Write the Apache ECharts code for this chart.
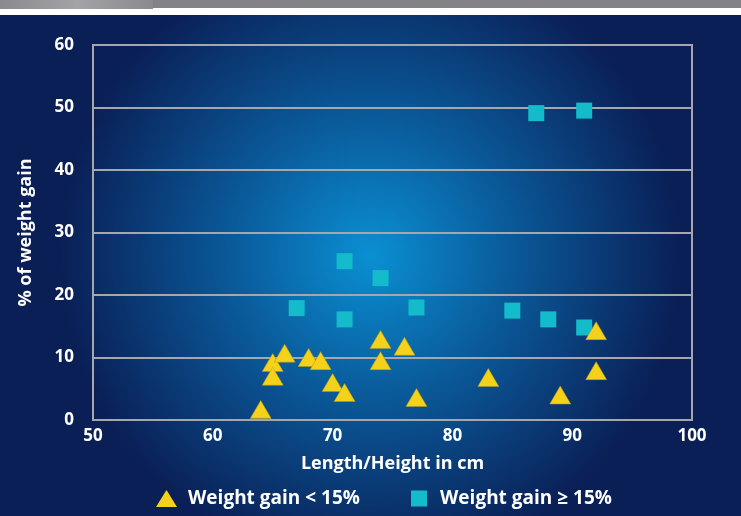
<!DOCTYPE html>
<html>
<head>
<meta charset="utf-8">
<script src="https://cdn.jsdelivr.net/npm/echarts@6/dist/echarts.min.js"></script>
<style>
  html, body { margin: 0; padding: 0; background: #ffffff; }
  #chart { width: 741px; height: 516px; }
</style>
</head>
<body>
<div id="chart"></div>
<script>
// weight gain < 15%  [length cm, % gain]
var lowGain = [
  [64, 1.7], [65, 9.2], [65, 7.0], [66, 10.7], [68, 10.0], [69, 9.5],
  [70, 6.0], [71, 4.4], [74, 12.9], [74, 9.5], [76, 11.8], [77, 3.6],
  [83, 6.8], [89, 4.0], [92, 14.3], [92, 7.9]
];
// weight gain >= 15%
var highGain = [
  [67, 17.9], [71, 25.4], [71, 16.1], [74, 22.7], [77, 18.0],
  [85, 17.5], [88, 16.1], [91, 14.8], [87, 49.1], [91, 49.5]
];
var seriesNames = ["Weight gain < 15%", "Weight gain \u2265 15%"];
var xTicks = { min: 50, max: 100, step: 10 };
var yTicks = { min: 0, max: 60, step: 10 };

var font = "'Open Sans', 'DejaVu Sans', sans-serif";
var myChart = echarts.init(document.getElementById("chart"));
var option = {
  backgroundColor: "#ffffff",
  graphic: [
    {
      type: "rect",
      z: -10,
      shape: { x: 0, y: 0, width: 741, height: 8 },
      style: { fill: "#838387" }
    },
    {
      type: "rect",
      z: -10,
      shape: { x: 0, y: 0, width: 153, height: 9 },
      style: {
        fill: new echarts.graphic.LinearGradient(0, 0, 1, 0, [
          { offset: 0, color: "#8a8a8e" },
          { offset: 0.5, color: "#a3a3a6" },
          { offset: 1, color: "#8a8a8e" }
        ])
      }
    },
    {
      type: "rect",
      z: -10,
      shape: { x: 0, y: 15, width: 741, height: 501 },
      style: {
        fill: new echarts.graphic.RadialGradient(0.5, 0.48, 0.62, [
          { offset: 0, color: "#0a90d3" },
          { offset: 0.45, color: "#0a5a9a" },
          { offset: 1, color: "#0a1f56" }
        ])
      }
    }
  ],
  grid: {
    left: 93,
    right: 49,
    top: 45,
    bottom: 96,
    show: true,
    borderColor: "#a5a7ab",
    borderWidth: 2,
    backgroundColor: "transparent"
  },
  legend: [
    {
      data: [{ name: seriesNames[0], icon: "triangle", itemStyle: { borderWidth: 0 } }],
      left: 156,
      top: 489,
      padding: 0,
      itemWidth: 21,
      itemHeight: 17,
      textStyle: { color: "#ffffff", fontSize: 19, fontWeight: "bold", fontFamily: font, padding: [0, 0, 0, 6] }
    },
    {
      data: [{ name: seriesNames[1], icon: "rect" }],
      left: 411,
      top: 489,
      padding: 0,
      itemWidth: 16,
      itemHeight: 16,
      textStyle: { color: "#ffffff", fontSize: 19, fontWeight: "bold", fontFamily: font, padding: [0, 0, 0, 8] }
    }
  ],
  xAxis: {
    type: "value",
    min: xTicks.min,
    max: xTicks.max,
    interval: xTicks.step,
    name: "Length/Height in cm",
    nameLocation: "middle",
    nameGap: 35,
    nameTextStyle: { color: "#ffffff", fontSize: 18, fontWeight: "bold", fontFamily: font },
    axisLine: { lineStyle: { color: "#a5a7ab", width: 2 } },
    axisTick: { show: false },
    splitLine: { show: false },
    axisLabel: { color: "#ffffff", fontSize: 17, fontWeight: "bold", fontFamily: font, margin: 8 }
  },
  yAxis: {
    type: "value",
    min: yTicks.min,
    max: yTicks.max,
    interval: yTicks.step,
    name: "% of weight gain",
    nameLocation: "middle",
    nameGap: 58,
    nameTextStyle: { color: "#ffffff", fontSize: 18, fontWeight: "bold", fontFamily: font },
    axisLine: { show: true, lineStyle: { color: "#a5a7ab", width: 2 } },
    axisTick: { show: false },
    splitLine: { lineStyle: { color: "#a5a7ab", width: 2 } },
    axisLabel: { color: "#ffffff", fontSize: 17, fontWeight: "bold", fontFamily: font, margin: 19 }
  },
  series: [
    {
      name: seriesNames[1],
      type: "scatter",
      symbol: "rect",
      symbolSize: 16,
      data: highGain,
      itemStyle: { color: "#14bccb", opacity: 1 },
      z: 3
    },
    {
      name: seriesNames[0],
      type: "scatter",
      symbol: "triangle",
      symbolSize: [21, 18],
      data: lowGain,
      itemStyle: { color: "#f4d219", opacity: 1, borderColor: "#b59a1a", borderWidth: 0.5 },
      z: 4
    }
  ]
};
myChart.setOption(option, true);
window.addEventListener("resize", function () {
  myChart.resize();
});
</script>
</body>
</html>
